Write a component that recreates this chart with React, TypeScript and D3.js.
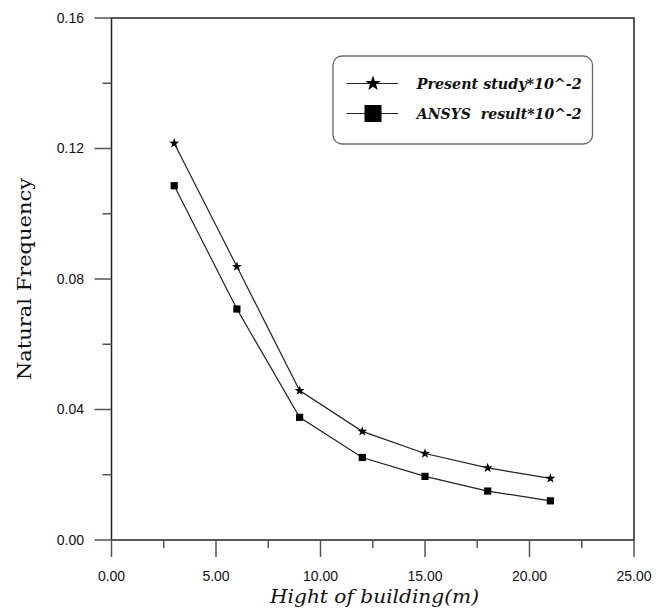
import React from "react";
import * as d3 from "d3";

const heights = [3, 6, 9, 12, 15, 18, 21];
const presentStudy = [0.1216, 0.0838, 0.0458, 0.0333, 0.0265, 0.0221, 0.0189];
const ansysResult = [0.1086, 0.0708, 0.0376, 0.0253, 0.0195, 0.015, 0.012];
const xMajorTicks = [0, 5, 10, 15, 20, 25];
const xMinorTicks = [2.5, 7.5, 12.5, 17.5, 22.5];
const yMajorTicks = [0, 0.04, 0.08, 0.12, 0.16];
const yMinorTicks = [0.02, 0.06, 0.1, 0.14];
const legendLabels = ["Present study*10^-2", "ANSYS  result*10^-2"];
const xTitle = "Hight of building(m)";
const yTitle = "Natural Frequency";

const W = 657;
const H = 611;
const M = { left: 111.5, right: 634, top: 18, bottom: 540 };

function starPath(r: number, r2: number): string {
  const pts: [number, number][] = [];
  for (let i = 0; i < 10; i++) {
    const a = -Math.PI / 2 + (i * Math.PI) / 5;
    const rr = i % 2 === 0 ? r : r2;
    pts.push([Math.cos(a) * rr, Math.sin(a) * rr]);
  }
  return d3.line()(pts)! + "Z";
}

export default function App() {
  const x = d3.scaleLinear().domain([0, 25]).range([M.left, M.right]);
  const y = d3.scaleLinear().domain([0, 0.16]).range([M.bottom, M.top]);
  const fmt = d3.format(".2f");
  const line = d3
    .line<[number, number]>()
    .x((d) => x(d[0]))
    .y((d) => y(d[1]));
  const s1 = heights.map((h, i) => [h, presentStudy[i]] as [number, number]);
  const s2 = heights.map((h, i) => [h, ansysResult[i]] as [number, number]);
  const star = starPath(5.2, 2.1);
  const bigStar = starPath(8, 3.2);
  const tickColor = "#555";

  return (
    <svg
      width={W}
      height={H}
      style={{ position: "absolute", left: 0, top: 0, background: "#fff" }}
    >
      <rect x={0} y={0} width={W} height={H} fill="#fff" />
      {/* frame */}
      <rect
        x={M.left}
        y={M.top}
        width={M.right - M.left}
        height={M.bottom - M.top}
        fill="none"
        stroke="#222"
        strokeWidth={1.5}
      />
      {/* y ticks */}
      {yMajorTicks.map((t) => (
        <g key={"ym" + t}>
          <line x1={M.left - 17} x2={M.left} y1={y(t)} y2={y(t)} stroke={tickColor} strokeWidth={1.5} />
          <text
            x={84}
            y={y(t)}
            dy="0.35em"
            textAnchor="end"
            fontFamily="'Liberation Sans', Arial, sans-serif"
            fontSize={14}
            fill="#111"
          >
            {fmt(t)}
          </text>
        </g>
      ))}
      {yMinorTicks.map((t) => (
        <line key={"yn" + t} x1={M.left - 9} x2={M.left} y1={y(t)} y2={y(t)} stroke={tickColor} strokeWidth={1.5} />
      ))}
      {/* x ticks */}
      {xMajorTicks.map((t) => (
        <g key={"xm" + t}>
          <line x1={x(t)} x2={x(t)} y1={M.bottom} y2={M.bottom + 17} stroke={tickColor} strokeWidth={1.5} />
          <text
            x={x(t)}
            y={581}
            textAnchor="middle"
            fontFamily="'Liberation Sans', Arial, sans-serif"
            fontSize={14}
            fill="#111"
          >
            {fmt(t)}
          </text>
        </g>
      ))}
      {xMinorTicks.map((t) => (
        <line key={"xn" + t} x1={x(t)} x2={x(t)} y1={M.bottom} y2={M.bottom + 8} stroke={tickColor} strokeWidth={1.5} />
      ))}
      {/* axis titles */}
      <text
        x={374.5}
        y={603}
        textAnchor="middle"
        fontFamily="'DejaVu Serif', serif"
        fontStyle="italic"
        fontSize={18}
        textLength={209}
        lengthAdjust="spacingAndGlyphs"
        fill="#111"
      >
        {xTitle}
      </text>
      <text
        transform="translate(31,279) rotate(-90)"
        textAnchor="middle"
        fontFamily="'DejaVu Serif', serif"
        fontSize={18}
        textLength={202}
        lengthAdjust="spacingAndGlyphs"
        fill="#111"
      >
        {yTitle}
      </text>
      {/* series */}
      <path d={line(s1)!} fill="none" stroke="#222" strokeWidth={1.2} />
      <path d={line(s2)!} fill="none" stroke="#222" strokeWidth={1.2} />
      {s1.map((d, i) => (
        <path key={"st" + i} d={star} transform={`translate(${x(d[0])},${y(d[1])})`} fill="#000" />
      ))}
      {s2.map((d, i) => (
        <rect key={"sq" + i} x={x(d[0]) - 3.6} y={y(d[1]) - 3.6} width={7.2} height={7.2} fill="#000" />
      ))}
      {/* legend */}
      <rect x={333} y={56} width={259.5} height={88} rx={9} ry={9} fill="#fff" stroke="#666" strokeWidth={1.3} />
      <line x1={346.5} x2={398} y1={83.5} y2={83.5} stroke="#222" strokeWidth={1.2} />
      <path d={bigStar} transform="translate(373,83.5)" fill="#000" />
      <line x1={346.5} x2={398} y1={113.5} y2={113.5} stroke="#222" strokeWidth={1.2} />
      <rect x={364.5} y={105} width={17} height={17} fill="#000" />
      {legendLabels.map((l, i) => (
        <text
          key={l}
          x={416.7}
          y={88.5 + i * 30}
          fontFamily="'DejaVu Serif', serif"
          fontStyle="italic"
          fontWeight="bold"
          fontSize={15}
          textLength={165}
          lengthAdjust="spacingAndGlyphs"
          style={{ whiteSpace: "pre" }}
          fill="#111"
        >
          {l}
        </text>
      ))}
    </svg>
  );
}
